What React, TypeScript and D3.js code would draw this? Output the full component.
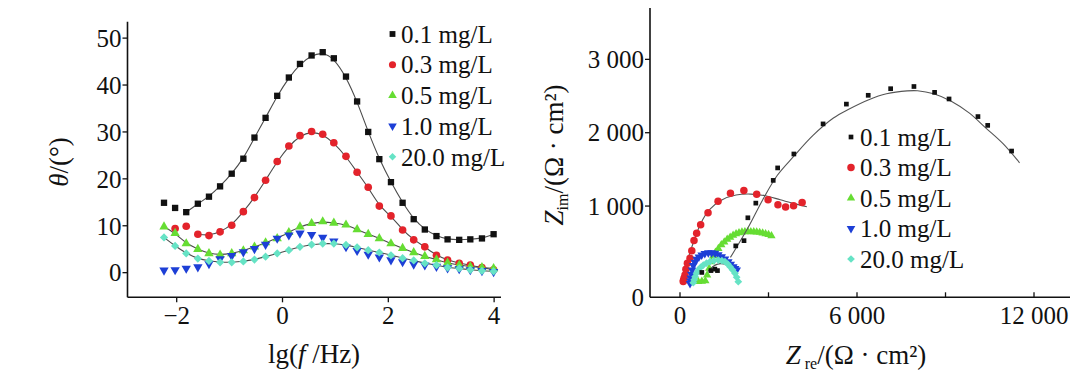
import React from 'react';
import * as d3 from 'd3';

// ---------- Left panel: Bode phase ----------
const lgF = [-2.24, -2.03, -1.82, -1.6, -1.39, -1.18, -0.96, -0.74, -0.53, -0.32, -0.1, 0.12, 0.33, 0.55, 0.76, 0.97, 1.2, 1.41, 1.62, 1.83, 2.05, 2.27, 2.48, 2.69, 2.91, 3.12, 3.34, 3.55, 3.77, 3.99];
const theta01 = [14.9, 13.8, 12.9, 14.7, 16.2, 18.4, 21.1, 24.3, 28.8, 33.0, 37.7, 41.6, 44.5, 46.3, 47.0, 45.7, 41.8, 36.5, 30.0, 24.2, 19.3, 14.9, 11.4, 9.2, 7.8, 7.1, 7.0, 7.1, 7.3, 8.2];
const theta03 = [null, 9.4, 9.9, 8.2, 7.9, 8.7, 10.1, 13.0, 16.0, 19.7, 23.7, 27.0, 29.2, 30.1, 29.5, 27.7, 24.8, 21.4, 18.2, 14.2, 12.1, 9.1, 7.0, 5.5, 3.7, 2.7, 2.0, 1.6, 1.1, 0.6];
const theta05 = [9.8, 8.4, 6.2, 5.0, 4.1, 3.8, 4.1, 4.7, 5.5, 6.4, 7.3, 8.6, 9.8, 10.5, 10.9, 10.6, 10.2, 9.2, 8.2, 7.3, 6.2, 5.2, 4.3, 3.5, 2.8, 2.1, 1.6, 1.3, 1.1, 0.9];
const theta10 = [0.5, 0.6, 0.9, 1.2, 1.9, 2.9, 3.6, 4.4, 5.1, 6.0, 7.3, 8.0, 8.4, 8.1, 7.5, 6.7, 5.5, 4.7, 3.9, 3.3, 2.7, 2.3, 1.8, 1.6, 1.3, 1.0, 0.8, 0.6, 0.4, 0.2];
const theta200 = [7.5, 5.7, 4.1, 3.0, 2.5, 2.2, 2.2, 2.4, 2.8, 3.4, 4.1, 4.8, 5.5, 6.0, 6.2, 6.2, 5.9, 5.4, 4.8, 4.3, 3.7, 3.1, 2.6, 2.0, 1.6, 1.1, 0.9, 0.6, 0.4, 0.3];
const fitStart = [2, 3, 0, -1, 0]; // -1: no fitted line drawn
const bodeXTicks = [-2, 0, 2, 4];
const bodeYTicks = [0, 10, 20, 30, 40, 50];

// ---------- Right panel: Nyquist ----------
const zre01 = [740, 1050, 1180, 1270, 1890, 2170, 2300, 2570, 3160, 3310, 3860, 4850, 5640, 6380, 7140, 7930, 8630, 9120, 10100, 10430, 11240];
const zim01 = [95, 120, 140, 120, 457, 528, 840, 1040, 1350, 1520, 1710, 2120, 2390, 2510, 2600, 2630, 2550, 2460, 2220, 2100, 1750];
const zre03 = [110, 120, 140, 170, 200, 250, 340, 400, 475, 565, 700, 950, 1290, 1710, 2165, 2600, 2985, 3320, 3580, 3850, 4140];
const zim03 = [-30, -10, 20, 60, 140, 220, 290, 390, 530, 630, 745, 910, 1065, 1175, 1213, 1160, 1085, 1018, 987, 1005, 1050];
const zre05 = [620, 740, 860, 920, 990, 1060, 1130, 1200, 1300, 1400, 1500, 1600, 1700, 1800, 1900, 2000, 2100, 2200, 2300, 2400, 2500, 2600, 2700, 2800, 2900, 3000, 3100];
const zim05 = [-30, -25, -20, 60, 150, 240, 320, 370, 420, 470, 510, 545, 575, 600, 620, 635, 645, 650, 652, 650, 648, 645, 640, 632, 622, 610, 595];
const zre10 = [340, 350, 365, 385, 410, 450, 500, 565, 640, 735, 840, 960, 1070, 1186, 1300, 1413, 1525, 1638, 1720, 1808, 1870, 1921];
const zim10 = [-55, -20, 20, 70, 130, 190, 235, 274, 305, 333, 352, 364, 362, 356, 336, 310, 278, 241, 208, 173, 150, 128];
const zre200 = [450, 480, 510, 560, 620, 700, 790, 900, 1017, 1150, 1299, 1420, 1525, 1620, 1695, 1780, 1864, 1920, 1976];
const zim200 = [-45, -5, 37, 85, 128, 165, 196, 222, 241, 256, 264, 256, 241, 210, 173, 130, 83, 30, -31];

const fitZre01 = [1710, 2300, 2810, 3300, 3860, 4500, 5200, 5720, 6400, 7000, 7700, 8050, 8600, 9210, 9800, 10370, 10950, 11510];
const fitZim01 = [300, 700, 1090, 1420, 1680, 1960, 2200, 2320, 2450, 2530, 2570, 2572, 2530, 2425, 2270, 2063, 1850, 1590];
const fitZre03 = [110, 250, 450, 700, 1000, 1400, 1900, 2400, 2900, 3400, 3900, 4300];
const fitZim03 = [0, 250, 500, 760, 950, 1080, 1150, 1163, 1140, 1085, 1030, 990];
const fitZre05 = [1100, 1300, 1500, 1700, 1900, 2100, 2300, 2500, 2700, 2900, 3100];
const fitZim05 = [340, 440, 510, 565, 605, 630, 640, 638, 630, 615, 590];
const fitZre10 = [350, 420, 520, 650, 800, 960, 1120, 1280, 1440, 1600, 1760, 1900];
const fitZim10 = [-30, 130, 240, 305, 345, 360, 355, 335, 300, 255, 195, 135];
const fitZre200 = [950, 1100, 1250, 1400, 1550, 1700, 1800, 1880];
const fitZim200 = [110, 170, 205, 215, 200, 150, 95, 30];

const nyqXMajor = [0, 6000, 12000];
const nyqXMinor = [3000, 9000];
const nyqYTicks = [1000, 2000, 3000];

const legendLabels = ['0.1 mg/L', '0.3 mg/L', '0.5 mg/L', '1.0 mg/L', '20.0 mg/L'];
const colors = ['#111111', '#e3232b', '#66dd33', '#1d3fd6', '#66e3c5'];
const kinds = ['square', 'circle', 'triangle', 'down', 'diamond'];

const FONT = "'Liberation Serif', 'Times New Roman', serif";

function symbolPath(kind: string, size: number) {
  const t = kind === 'square' ? d3.symbolSquare
    : kind === 'circle' ? d3.symbolCircle
    : kind === 'triangle' || kind === 'down' ? d3.symbolTriangle
    : d3.symbolSquare;
  return d3.symbol().type(t).size(size)() as string;
}

function Marker({ kind, x, y, color, size }: any) {
  const rot = kind === 'down' ? 180 : kind === 'diamond' ? 45 : 0;
  return (
    <path
      d={symbolPath(kind, size)}
      transform={`translate(${x},${y}) rotate(${rot})`}
      fill={color}
      stroke="none"
    />
  );
}

const fmtK = (v: number) => d3.format(',')(v).replace(/,/g, ' ');

export default function App() {
  // left scales
  const bx = d3.scaleLinear().domain([-2.93, 4.13]).range([127.5, 501]);
  const by = d3.scaleLinear().domain([-5.25, 53.5]).range([297.3, 21.7]);
  // right scales
  const nx = d3.scaleLinear().domain([-1017, 13220]).range([650, 1070]);
  const ny = d3.scaleLinear().domain([-244, 3718]).range([297.3, 6.7]);

  const bodeSeries = [theta01, theta03, theta05, theta10, theta200];
  const bodeSizes = [40, 46, 38, 38, 34];
  const nyqSeries = [
    { re: zre01, im: zim01, fre: fitZre01, fim: fitZim01 },
    { re: zre03, im: zim03, fre: fitZre03, fim: fitZim03 },
    { re: zre05, im: zim05, fre: fitZre05, fim: fitZim05 },
    { re: zre10, im: zim10, fre: fitZre10, fim: fitZim10 },
    { re: zre200, im: zim200, fre: fitZre200, fim: fitZim200 },
  ];
  const nyqSizes = [22, 44, 30, 32, 30];
  const nyqOrder = [1, 2, 3, 4, 0];

  const bodeLine = d3.line<[number, number]>()
    .x((d) => bx(d[0]))
    .y((d) => by(d[1]))
    .curve(d3.curveBasis);
  const nyqLine = d3.line<[number, number]>()
    .x((d) => nx(d[0]))
    .y((d) => ny(d[1]))
    .curve(d3.curveCatmullRom);

  const bx0 = bx.range()[0];
  const bx1 = bx.range()[1];
  const byBottom = by.range()[0];
  const byTop = by.range()[1];
  const nx0 = nx.range()[0];
  const nx1 = nx.range()[1];
  const nyBottom = ny.range()[0];
  const nyTop = ny.range()[1];

  return (
    <svg width={1064} height={381} style={{ display: 'block', background: '#fff', fontFamily: FONT }}>
      <rect x={-8} y={-8} width={1080} height={381} fill="#ffffff" />
      <g transform="translate(-8,-8)">
        {/* ---------------- Left panel ---------------- */}
        {bodeSeries.map((s, i) => {
          if (fitStart[i] < 0) return null;
          const pts: [number, number][] = [];
          s.forEach((v, j) => {
            if (j >= fitStart[i] && v != null) pts.push([lgF[j], v as number]);
          });
          return <path key={'bl' + i} d={bodeLine(pts) as string} fill="none" stroke="#4a4a4a" strokeWidth={1.1} />;
        })}
        {[0, 1, 2, 3, 4].map((i) =>
          bodeSeries[i].map((v, j) =>
            v == null ? null : (
              <Marker key={`bm${i}-${j}`} kind={kinds[i]} x={bx(lgF[j])} y={by(v as number)} color={colors[i]} size={bodeSizes[i]} />
            )
          )
        )}
        <line x1={bx0} x2={bx0} y1={byTop} y2={byBottom} stroke="#111" strokeWidth={1.6} />
        <line x1={bx0} x2={bx1} y1={byBottom} y2={byBottom} stroke="#111" strokeWidth={1.6} />
        {bodeYTicks.map((t) => (
          <g key={'byt' + t}>
            <line x1={bx0 - 5} x2={bx0} y1={by(t)} y2={by(t)} stroke="#111" strokeWidth={1.3} />
            <text x={bx0 - 6} y={by(t)} dy="0.35em" textAnchor="end" fontSize={25} fill="#111">{t}</text>
          </g>
        ))}
        {bodeXTicks.map((t) => (
          <g key={'bxt' + t}>
            <line x1={bx(t)} x2={bx(t)} y1={byBottom} y2={byBottom + 5} stroke="#111" strokeWidth={1.3} />
            <text x={bx(t)} y={byBottom + 27} textAnchor="middle" fontSize={25} fill="#111">{t < 0 ? '\u2212' + Math.abs(t) : t}</text>
          </g>
        ))}
        <text transform={`translate(68,162) rotate(-90)`} textAnchor="middle" fontSize={27} fill="#111">
          <tspan fontStyle="italic">θ</tspan>/(°)
        </text>
        <text x={314} y={363} textAnchor="middle" fontSize={27} fill="#111">
          lg(<tspan fontStyle="italic">f</tspan> /Hz)
        </text>
        {legendLabels.map((lab, i) => (
          <g key={'bleg' + i}>
            <Marker kind={kinds[i]} x={392.5} y={34 + i * 30.7} color={colors[i]} size={bodeSizes[i] - 6} />
            <text x={401} y={34 + i * 30.7} dy="0.35em" fontSize={25} fill="#111">{lab}</text>
          </g>
        ))}

        {/* ---------------- Right panel ---------------- */}
        {nyqOrder.map((i) => {
          const s = nyqSeries[i];
          const fitPts: [number, number][] = s.fre.map((r, j) => [r, s.fim[j]]);
          return (
            <g key={'ns' + i}>
              <path d={nyqLine(fitPts) as string} fill="none" stroke={i === 3 ? '#1a2a80' : '#555'} strokeWidth={1.1} />
              {s.re.map((r, j) => (
                <Marker key={`nm${i}-${j}`} kind={kinds[i]} x={nx(r)} y={ny(s.im[j])} color={colors[i]} size={nyqSizes[i]} />
              ))}
            </g>
          );
        })}
        <line x1={nx0} x2={nx0} y1={nyTop} y2={nyBottom} stroke="#111" strokeWidth={1.6} />
        <line x1={nx0} x2={nx1} y1={nyBottom} y2={nyBottom} stroke="#111" strokeWidth={1.6} />
        {nyqYTicks.map((t) => (
          <g key={'nyt' + t}>
            <line x1={nx0 - 5} x2={nx0} y1={ny(t)} y2={ny(t)} stroke="#111" strokeWidth={1.3} />
            <text x={nx0 - 6} y={ny(t)} dy="0.35em" textAnchor="end" fontSize={25} fill="#111">{fmtK(t)}</text>
          </g>
        ))}
        <text x={nx0 - 6} y={nyBottom} dy="0.35em" textAnchor="end" fontSize={25} fill="#111">0</text>
        {nyqXMajor.concat(nyqXMinor).map((t) => (
          <line key={'nxtl' + t} x1={nx(t)} x2={nx(t)} y1={nyBottom} y2={nyBottom - 5} stroke="#111" strokeWidth={1.3} />
        ))}
        {nyqXMajor.map((t) => (
          <text key={'nxt' + t} x={nx(t)} y={nyBottom + 27} textAnchor="middle" fontSize={25} fill="#111">{fmtK(t)}</text>
        ))}
        <text transform={`translate(563,155) rotate(-90)`} textAnchor="middle" fontSize={27} fill="#111">
          <tspan fontStyle="italic">Z</tspan>
          <tspan fontSize={16} dy={5}>im</tspan>
          <tspan dy={-5}>/(Ω · cm²)</tspan>
        </text>
        <text x={856} y={364} textAnchor="middle" fontSize={27} fill="#111">
          <tspan fontStyle="italic">Z</tspan>
          <tspan fontSize={16} dy={5}> re</tspan>
          <tspan dy={-5}>/(Ω · cm²)</tspan>
        </text>
        {legendLabels.map((lab, i) => (
          <g key={'nleg' + i}>
            <Marker kind={kinds[i]} x={851} y={137 + i * 30.5} color={colors[i]} size={nyqSizes[i]} />
            <text x={860} y={137 + i * 30.5} dy="0.35em" fontSize={25} fill="#111">{lab}</text>
          </g>
        ))}
      </g>
    </svg>
  );
}
